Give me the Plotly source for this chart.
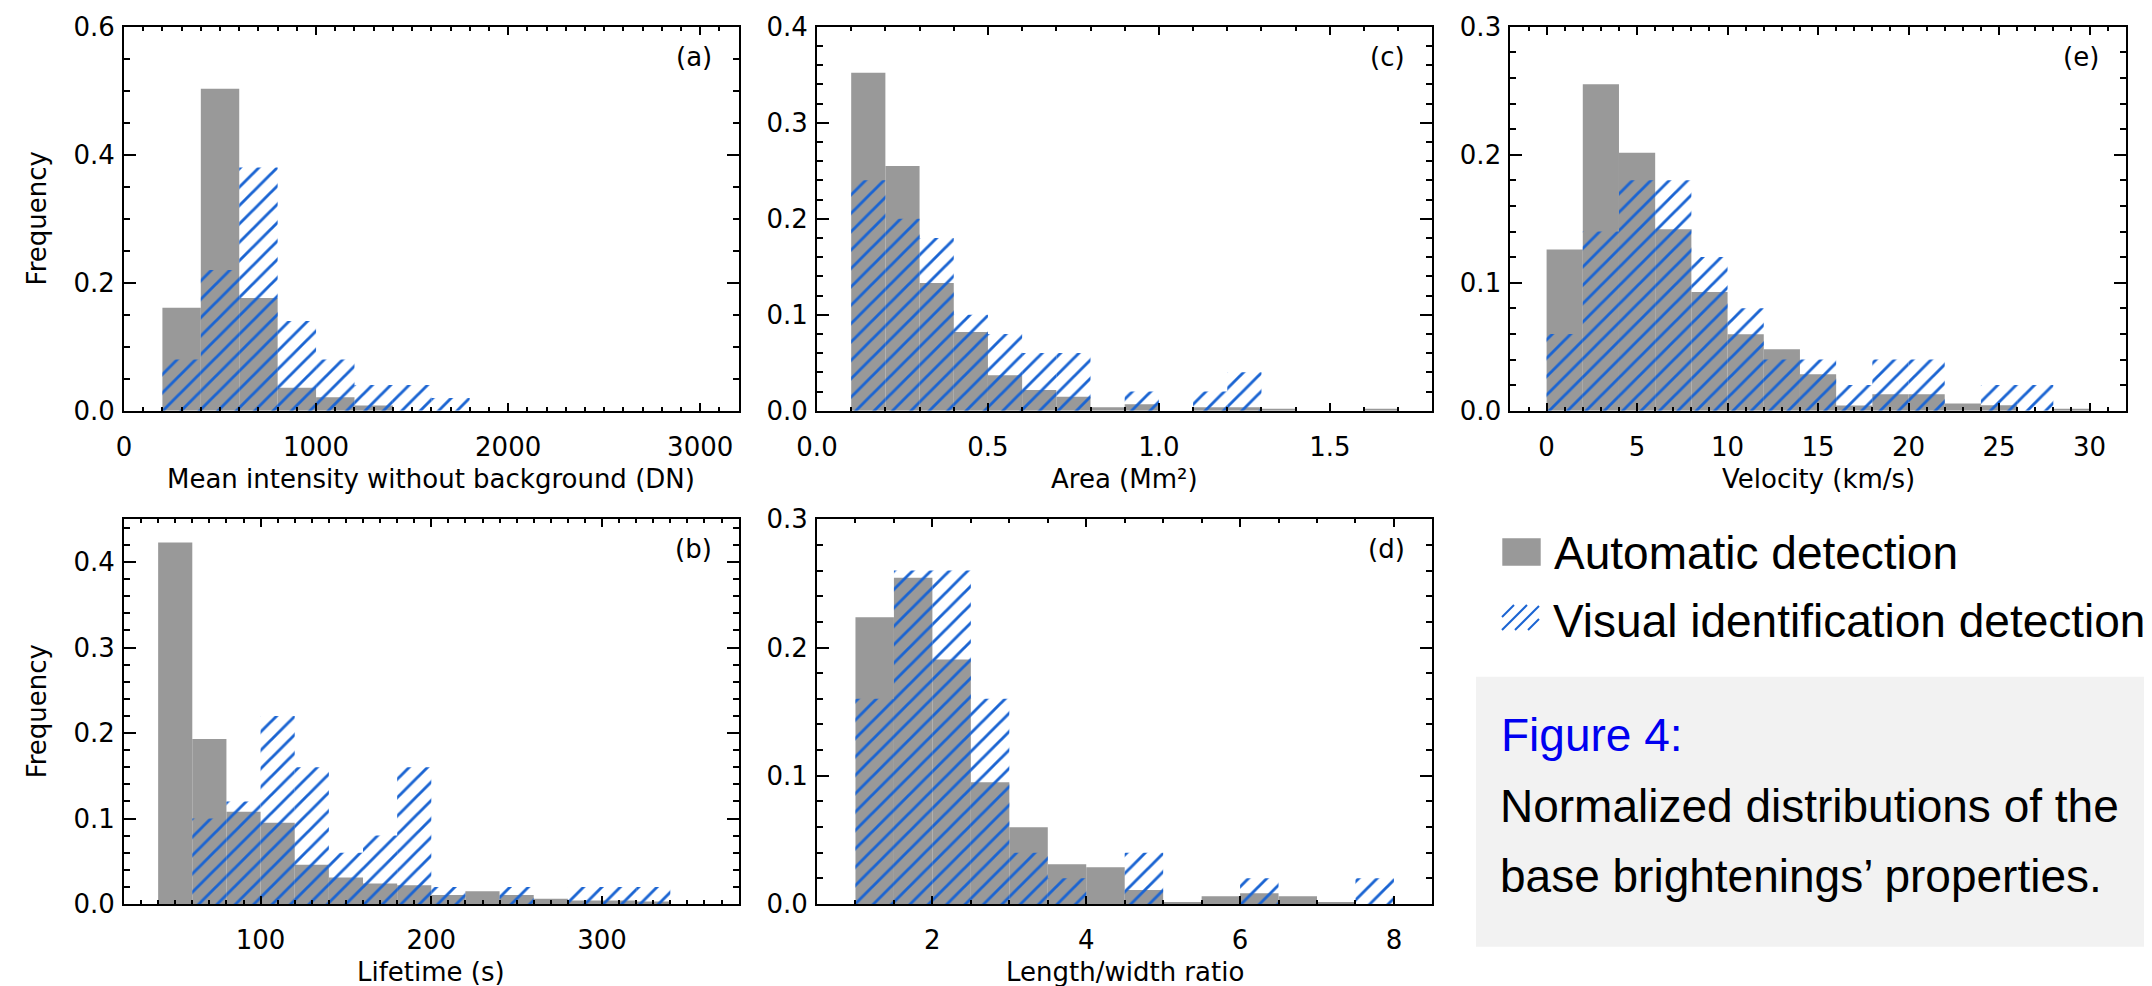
import plotly.graph_objects as go

W, H = 2152, 986
PAGE_OFFSET = 8  # default body margin of the html page

# Histogram data: first bin edge, bin width, normalized frequencies
# (a) mean intensity without background (DN)
a_start, a_width = 200, 200
a_auto = [0.161, 0.503, 0.176, 0.036, 0.021, 0.008, 0.0, 0.0]
a_visual = [0.08, 0.22, 0.38, 0.14, 0.08, 0.04, 0.04, 0.02]

# (c) area (Mm^2)
c_start, c_width = 0.1, 0.1
c_auto = [0.352, 0.255, 0.133, 0.082, 0.037, 0.0215, 0.0146, 0.0035,
          0.0066, 0.0, 0.0035, 0.0035, 0.0012, 0.0, 0.0, 0.0012]
c_visual = [0.24, 0.20, 0.18, 0.10, 0.08, 0.06, 0.06, 0.0,
            0.02, 0.0, 0.02, 0.04, 0.0, 0.0, 0.0, 0.0]

# (e) velocity (km/s)
e_start, e_width = 0, 2
e_auto = [0.126, 0.255, 0.2016, 0.1417, 0.0927, 0.0597, 0.048, 0.0284,
          0.004, 0.0128, 0.0128, 0.0057, 0.0042, 0.0, 0.0012]
e_visual = [0.06, 0.14, 0.18, 0.18, 0.12, 0.08, 0.04, 0.04,
            0.02, 0.04, 0.04, 0.0, 0.02, 0.02, 0.0]

# (b) lifetime (s)
b_start, b_width = 40, 20
b_auto = [0.423, 0.193, 0.108, 0.095, 0.046, 0.031, 0.024, 0.022,
          0.0105, 0.015, 0.0105, 0.006, 0.004, 0.004, 0.003]
b_visual = [0.0, 0.10, 0.12, 0.22, 0.16, 0.06, 0.08, 0.16,
            0.02, 0.0, 0.02, 0.0, 0.02, 0.02, 0.02]

# (d) length/width ratio
d_start, d_width = 1.0, 0.5
d_auto = [0.2236, 0.2545, 0.1906, 0.095, 0.0598, 0.031, 0.0286, 0.011,
          0.0016, 0.006, 0.0083, 0.006, 0.0016, 0.0]
d_visual = [0.16, 0.26, 0.26, 0.16, 0.04, 0.02, 0.0, 0.04,
            0.0, 0.0, 0.02, 0.0, 0.0, 0.02]

GRAY = "#999999"
BLUE = "#1a64d2"
PLOT_FONT = dict(family="DejaVu Sans", size=26, color="black")
TEXT_FONT = "Liberation Sans, Arial, sans-serif"


# screen pixel -> paper fraction
def fx(px):
    return (px - PAGE_OFFSET) / W


def fy(px):
    return 1 - (px - PAGE_OFFSET) / H


# panel boxes in screen pixels: left, right, top, bottom
TOP = (26.7, 410.7)
BOT = (519.3, 904.0)
COLS = [(124.0, 738.6), (817.0, 1432.4), (1510.4, 2125.7)]

panels = [
    dict(key="", box=(COLS[0], TOP), start=a_start, width=a_width, auto=a_auto, vis=a_visual,
         xr=[0, 3200], xd=1000, xm=100, xf="d", yr=[0, 0.6], yd=0.2, ym=0.05,
         title="Mean intensity without background (DN)", label="(a)", ylab=True),
    dict(key="2", box=(COLS[1], TOP), start=c_start, width=c_width, auto=c_auto, vis=c_visual,
         xr=[0, 1.8], xd=0.5, xm=0.1, xf=".1f", yr=[0, 0.4], yd=0.1, ym=0.02,
         title="Area (Mm²)", label="(c)", ylab=False),
    dict(key="3", box=(COLS[2], TOP), start=e_start, width=e_width, auto=e_auto, vis=e_visual,
         xr=[-2, 32], xd=5, xm=1, xf="d", yr=[0, 0.3], yd=0.1, ym=0.02,
         title="Velocity (km/s)", label="(e)", ylab=False),
    dict(key="4", box=(COLS[0], BOT), start=b_start, width=b_width, auto=b_auto, vis=b_visual,
         xr=[20, 380], xd=100, xm=10, xf="d", yr=[0, 0.45], yd=0.1, ym=0.02,
         title="Lifetime (s)", label="(b)", ylab=True),
    dict(key="5", box=(COLS[1], BOT), start=d_start, width=d_width, auto=d_auto, vis=d_visual,
         xr=[0.5, 8.5], xd=2, xm=0.5, xf="d", yr=[0, 0.3], yd=0.1, ym=0.02,
         title="Length/width ratio", label="(d)", ylab=False),
]

fig = go.Figure()
layout = {}
annotations = []

for p in panels:
    (x0, x1), (y0, y1) = p["box"]
    k = p["key"]
    centers = [p["start"] + p["width"] * (i + 0.5) for i in range(len(p["auto"]))]

    fig.add_trace(go.Bar(
        x=centers, y=p["auto"], width=p["width"],
        marker=dict(color=GRAY, line=dict(width=0)),
        xaxis="x" + k, yaxis="y" + k, showlegend=False,
        name="Automatic detection",
    ))
    fig.add_trace(go.Bar(
        x=centers, y=p["vis"], width=p["width"],
        marker=dict(color="rgba(0,0,0,0)", line=dict(width=0),
                    pattern=dict(shape="/", size=13, solidity=0.22, fillmode="replace",
                                 fgcolor=BLUE, bgcolor="rgba(0,0,0,0)")),
        xaxis="x" + k, yaxis="y" + k, showlegend=False,
        name="Visual identification detection",
    ))

    common = dict(showline=True, linecolor="black", linewidth=2, mirror="ticks",
                  ticks="inside", tickcolor="black", tickwidth=2, automargin=False,
                  showgrid=False, zeroline=False, tickfont=PLOT_FONT, tick0=0)
    layout["xaxis" + k] = dict(
        domain=[fx(x0), fx(x1)], range=p["xr"], anchor="y" + k,
        dtick=p["xd"], ticklen=8, tickformat=p["xf"], ticklabelstandoff=12,
        minor=dict(dtick=p["xm"], ticks="inside", ticklen=4, tickwidth=1.5, tickcolor="black"),
        **common,
    )
    layout["yaxis" + k] = dict(
        domain=[fy(y1), fy(y0)], range=p["yr"], anchor="x" + k,
        dtick=p["yd"], ticklen=12, tickformat=".1f", ticklabelstandoff=2,
        minor=dict(dtick=p["ym"], ticks="inside", ticklen=6, tickwidth=1.5, tickcolor="black"),
        **common,
    )

    # x axis title
    annotations.append(dict(
        text=p["title"], x=fx((x0 + x1) / 2), y=fy(y1 + 68), xref="paper", yref="paper",
        xanchor="center", yanchor="middle", showarrow=False, font=PLOT_FONT,
    ))
    # panel label
    annotations.append(dict(
        text=p["label"], x=fx(x1 - 25), y=fy(y0 + 30), xref="paper", yref="paper",
        xanchor="right", yanchor="middle", showarrow=False, font=PLOT_FONT,
    ))
    if p["ylab"]:
        annotations.append(dict(
            text="Frequency", x=fx(36.7), y=fy((y0 + y1) / 2), xref="paper", yref="paper",
            xanchor="center", yanchor="middle", textangle=-90, showarrow=False, font=PLOT_FONT,
        ))

# legend and caption text
legend_font = dict(family=TEXT_FONT, size=46, color="black")
annotations += [
    dict(text="Automatic detection", x=fx(1552), y=fy(552.5), xanchor="left", yanchor="middle",
         xref="paper", yref="paper", showarrow=False, font=legend_font),
    dict(text="Visual identification detection", x=fx(1551), y=fy(621.3), xanchor="left",
         yanchor="middle", xref="paper", yref="paper", showarrow=False, font=legend_font),
    dict(text="Figure 4:", x=fx(1499), y=fy(735), xanchor="left", yanchor="middle",
         xref="paper", yref="paper", showarrow=False,
         font=dict(family=TEXT_FONT, size=46, color="#0000f0")),
    dict(text="Normalized distributions of the", x=fx(1498), y=fy(806), xanchor="left",
         yanchor="middle", xref="paper", yref="paper", showarrow=False, font=legend_font),
    dict(text="base brightenings’ properties.", x=fx(1498), y=fy(875.7), xanchor="left",
         yanchor="middle", xref="paper", yref="paper", showarrow=False, font=legend_font),
]

shapes = [
    # caption box
    dict(type="rect", xref="paper", yref="paper", x0=fx(1476), x1=fx(2200),
         y0=fy(946.7), y1=fy(676.7), fillcolor="#f2f2f2", line=dict(width=0), layer="below"),
    # legend swatch for automatic detection
    dict(type="rect", xref="paper", yref="paper", x0=fx(1502.3), x1=fx(1540.7),
         y0=fy(565.7), y1=fy(538.3), fillcolor=GRAY, line=dict(width=0)),
]
# legend swatch for visual identification: short hatch strokes
for c in [1489, 1502, 1515, 1528]:
    xa, ya = c, 630.0
    xb, yb = c + 25, 605.0
    if xa < 1502:
        ya -= 1502 - xa
        xa = 1502
    if xb > 1539:
        yb += xb - 1539
        xb = 1539
    shapes.append(dict(type="line", xref="paper", yref="paper", x0=fx(xa), y0=fy(ya),
                       x1=fx(xb), y1=fy(yb), line=dict(color=BLUE, width=2)))

fig.update_layout(
    template="none",
    width=W, height=H,
    margin=dict(l=0, r=0, t=0, b=0, pad=0),
    paper_bgcolor="white", plot_bgcolor="white",
    barmode="overlay",
    annotations=annotations,
    shapes=shapes,
    **layout,
)

fig.write_html("out.html")
